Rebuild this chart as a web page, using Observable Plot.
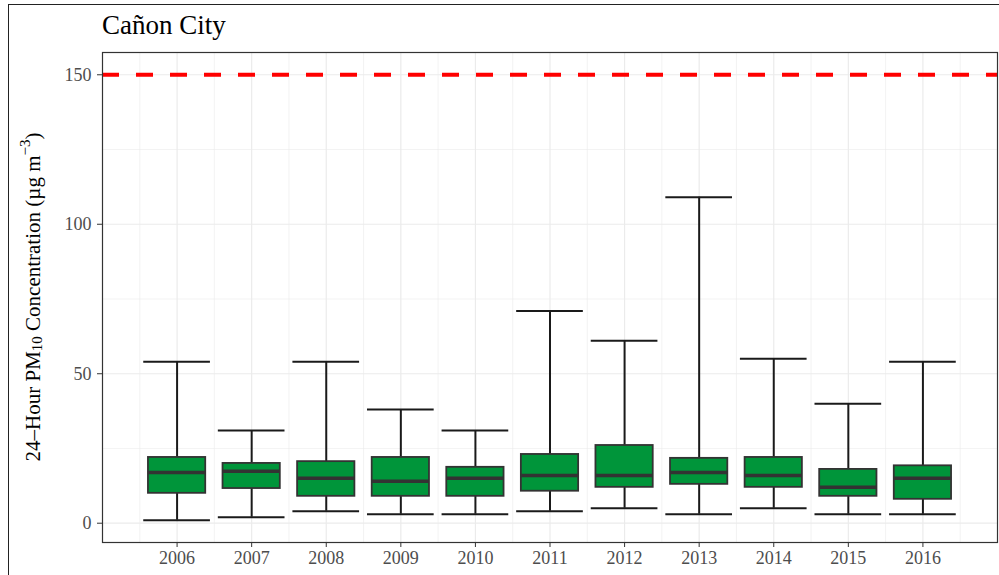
<!DOCTYPE html>
<html><head><meta charset="utf-8">
<script src="https://cdn.jsdelivr.net/npm/d3@7"></script>
<script src="https://cdn.jsdelivr.net/npm/@observablehq/plot@0.6"></script>
<style>
body{margin:0;background:#fff;}
#wrap{position:relative;width:999px;height:575px;overflow:hidden;background:#fff;}
#frame{position:absolute;left:8px;top:4px;width:1100px;height:700px;border:1.5px solid #222;box-sizing:border-box;}
#title{position:absolute;left:102px;top:12px;font-family:"Liberation Serif",serif;font-size:27px;color:#000;line-height:1;white-space:nowrap;}
#chart{position:absolute;left:0;top:0;}
</style></head>
<body><div id="wrap"><div id="frame"></div><div id="title">Cañon City</div><div id="chart"></div></div>
<script>
const years        = [2006, 2007, 2008, 2009, 2010, 2011, 2012, 2013, 2014, 2015, 2016];
const lowerWhisker = [1,    2,    4,    3,    3,    4,    5,    3,    5,    3,    3];
const q1           = [10,   11.6, 9,    9,    9,    10.7, 12,   13,   12,   9,    8];
const median       = [17,   17.4, 15,   14,   15,   16,   16,   17,   16,   12,   15];
const q3           = [22,   20,   20.6, 22,   18.7, 23,   26,   21.7, 22,   18,   19.2];
const upperWhisker = [54,   31,   54,   38,   31,   71,   61,   109,  55,   40,   54];
const yTicks = [0, 50, 100, 150];
const yMinor = [25, 75, 125];
const standard = [150];

const data = years.map((y, i) => ({year: y, lo: lowerWhisker[i], q1: q1[i], med: median[i], q3: q3[i], hi: upperWhisker[i]}));
const xMinor = years.map(y => y - 0.5).concat([years[years.length - 1] + 0.5]);
const boxHalf = 0.384, capHalf = 0.447;

const plot = Plot.plot({
  width: 999, height: 575,
  marginLeft: 102, marginRight: 2, marginTop: 52, marginBottom: 33,
  style: {fontFamily: "'Liberation Serif', serif", fontSize: "18px", background: "transparent", color: "#4D4D4D", overflow: "visible"},
  x: {domain: [2005, 2017]},
  y: {domain: [-6.45, 157.45]},
  marks: [
    Plot.ruleY(yMinor, {stroke: "#EBEBEB", strokeWidth: 0.6, strokeOpacity: 1}),
    Plot.ruleX(xMinor, {stroke: "#EBEBEB", strokeWidth: 0.6, strokeOpacity: 1}),
    Plot.ruleY(yTicks, {stroke: "#EBEBEB", strokeWidth: 1.2, strokeOpacity: 1}),
    Plot.ruleX(years, {stroke: "#EBEBEB", strokeWidth: 1.2, strokeOpacity: 1}),
    Plot.ruleX(data, {x: "year", y1: "lo", y2: "hi", stroke: "#1a1a1a", strokeWidth: 2}),
    Plot.ruleY(data, {y: "hi", x1: d => d.year - capHalf, x2: d => d.year + capHalf, stroke: "#1a1a1a", strokeWidth: 2}),
    Plot.ruleY(data, {y: "lo", x1: d => d.year - capHalf, x2: d => d.year + capHalf, stroke: "#1a1a1a", strokeWidth: 2}),
    Plot.rect(data, {x1: d => d.year - boxHalf, x2: d => d.year + boxHalf, y1: "q1", y2: "q3", fill: "#00953A", stroke: "#333333", strokeWidth: 1.8}),
    Plot.ruleY(data, {y: "med", x1: d => d.year - boxHalf, x2: d => d.year + boxHalf, stroke: "#333333", strokeWidth: 3.5}),
    Plot.ruleY(standard, {stroke: "#FF0000", strokeWidth: 4, strokeDasharray: "17,17"}),
    Plot.frame({stroke: "#333333", strokeWidth: 1.2}),
    Plot.axisX(years, {tickFormat: d => String(d), tickSize: 5, tickPadding: 4, label: null, stroke: "#333333"}),
    Plot.axisY(yTicks, {tickSize: 5, tickPadding: 6, label: null, stroke: "#333333"})
  ]
});
document.getElementById("chart").appendChild(plot);

const svg = d3.select(plot);
const lab = svg.append("text")
  .attr("transform", "translate(33,297) rotate(-90)")
  .attr("text-anchor", "middle")
  .attr("dominant-baseline", "central")
  .attr("fill", "#000")
  .style("font-family", "'Liberation Serif', serif")
  .style("font-size", "21px");
lab.append("tspan").text("24–Hour PM");
lab.append("tspan").attr("dy", 4).style("font-size", "15px").text("10");
lab.append("tspan").attr("dy", -4).text(" Concentration (µg m");
lab.append("tspan").attr("dy", -8).style("font-size", "15px").text("−3");
lab.append("tspan").attr("dy", 8).text(")");
</script>
</body></html>
